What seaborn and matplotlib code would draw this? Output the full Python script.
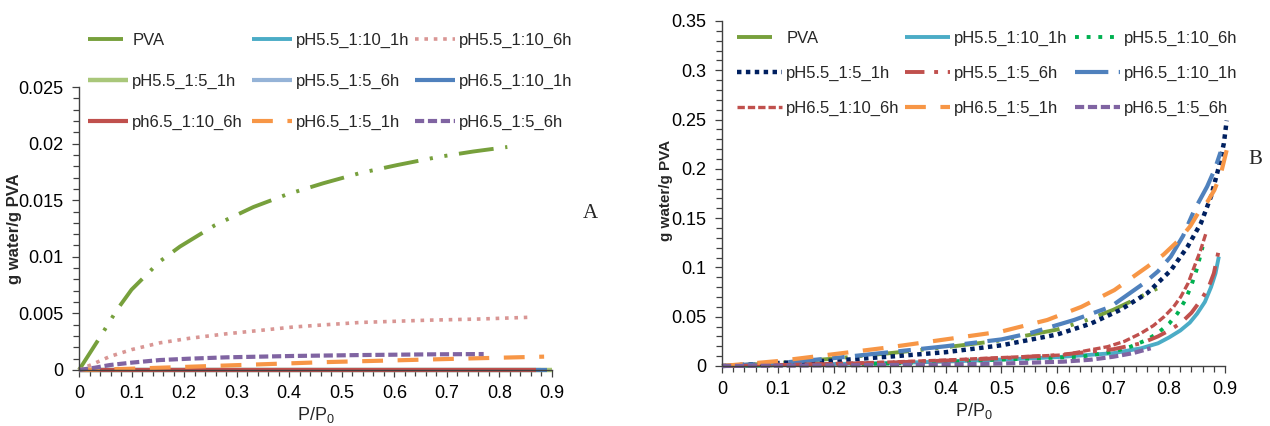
import matplotlib
matplotlib.use("Agg")
import matplotlib.pyplot as plt
import seaborn as sns
from matplotlib.ticker import MultipleLocator, FuncFormatter
from matplotlib.lines import Line2D
from matplotlib.legend import Legend

sns.set_theme(style="white")
plt.rcParams['font.family'] = ['Liberation Sans', 'DejaVu Sans']

# ---------------- data: panel A ----------------
labels_A = ["PVA", "pH5.5_1:10_1h", "pH5.5_1:10_6h",
            "pH5.5_1:5_1h", "pH5.5_1:5_6h", "pH6.5_1:10_1h",
            "ph6.5_1:10_6h", "pH6.5_1:5_1h", "pH6.5_1:5_6h"]

A_pva_x = [0, 0.04, 0.072, 0.10, 0.154, 0.192, 0.259, 0.332, 0.395, 0.465, 0.535, 0.605, 0.681, 0.75, 0.815]
A_pva_y = [0, 0.0029, 0.0053, 0.0071, 0.0096, 0.0109, 0.0128, 0.0144, 0.0155, 0.0165, 0.0174, 0.0181, 0.0188, 0.0193, 0.0197]
A_55_10_1_x = [0, 0.2, 0.4, 0.6, 0.86]
A_55_10_1_y = [0, 0, 0, 0, 0]
A_55_10_6_x = [0, 0.03, 0.059, 0.1, 0.154, 0.21, 0.281, 0.345, 0.408, 0.47, 0.535, 0.6, 0.662, 0.76, 0.853]
A_55_10_6_y = [0, 0.0006, 0.0012, 0.0018, 0.0024, 0.0028, 0.0032, 0.0035, 0.0038, 0.004, 0.0042, 0.0043, 0.0044, 0.0045, 0.00465]
A_55_5_1_x = [0, 0.3, 0.6, 0.9]
A_55_5_1_y = [0, 0, 0, 0]
A_55_5_6_x = [0, 0.3, 0.6, 0.88]
A_55_5_6_y = [0, 0, 0, 0]
A_65_10_1_x = [0, 0.3, 0.6, 0.89]
A_65_10_1_y = [0, 0, 0, 0]
A_65_10_6_x = [0, 0.3, 0.6, 0.87]
A_65_10_6_y = [0, 0, 0, 0]
A_65_5_1_x = [0, 0.09, 0.218, 0.345, 0.472, 0.6, 0.725, 0.885]
A_65_5_1_y = [0, 0.0001, 0.0003, 0.0005, 0.0007, 0.00085, 0.001, 0.00118]
A_65_5_6_x = [0, 0.03, 0.059, 0.1, 0.154, 0.21, 0.281, 0.408, 0.535, 0.662, 0.77]
A_65_5_6_y = [0, 0.0002, 0.00044, 0.00065, 0.00088, 0.001, 0.00112, 0.00124, 0.00132, 0.00138, 0.00141]

# ---------------- data: panel B ----------------
labels_B = ["PVA", "pH5.5_1:10_1h", "pH5.5_1:10_6h",
            "pH5.5_1:5_1h", "pH5.5_1:5_6h", "pH6.5_1:10_1h",
            "pH6.5_1:10_6h", "pH6.5_1:5_1h", "pH6.5_1:5_6h"]

B_pva_x = [0, 0.1, 0.2, 0.3, 0.4, 0.5, 0.6, 0.65, 0.7, 0.737, 0.78]
B_pva_y = [0, 0.003, 0.0075, 0.013, 0.019, 0.026, 0.037, 0.046, 0.057, 0.067, 0.079]
B_55_10_1_x = [0, 0.1, 0.2, 0.3, 0.4, 0.5, 0.6, 0.7, 0.75, 0.78, 0.8, 0.82, 0.837, 0.85, 0.864, 0.875, 0.883, 0.889]
B_55_10_1_y = [0, 0.001, 0.002, 0.003, 0.0045, 0.0065, 0.009, 0.013, 0.018, 0.023, 0.029, 0.036, 0.044, 0.053, 0.065, 0.08, 0.094, 0.111]
B_55_10_6_x = [0, 0.1, 0.2, 0.3, 0.4, 0.47, 0.55, 0.642, 0.7, 0.731, 0.758, 0.779, 0.8, 0.815, 0.828, 0.839, 0.85, 0.86]
B_55_10_6_y = [0, 0.0008, 0.0015, 0.0025, 0.004, 0.006, 0.0075, 0.0094, 0.0145, 0.0196, 0.026, 0.033, 0.043, 0.0534, 0.066, 0.0804, 0.099, 0.121]
B_55_5_1_x = [0, 0.1, 0.2, 0.3, 0.4, 0.5, 0.6, 0.66, 0.713, 0.761, 0.803, 0.833, 0.857, 0.875, 0.889, 0.898, 0.903]
B_55_5_1_y = [0, 0.003, 0.0055, 0.0095, 0.014, 0.021, 0.032, 0.043, 0.057, 0.074, 0.097, 0.121, 0.145, 0.172, 0.202, 0.226, 0.249]
B_55_5_6_x = [0, 0.1, 0.2, 0.3, 0.4, 0.5, 0.6, 0.7, 0.75, 0.78, 0.8, 0.821, 0.84, 0.857, 0.87, 0.88, 0.889]
B_55_5_6_y = [0, 0.001, 0.002, 0.0035, 0.0055, 0.008, 0.011, 0.017, 0.023, 0.03, 0.036, 0.0436, 0.054, 0.067, 0.079, 0.094, 0.118]
B_65_10_1_x = [0, 0.1, 0.2, 0.3, 0.4, 0.5, 0.552, 0.63, 0.695, 0.755, 0.78, 0.803, 0.825, 0.845, 0.868, 0.882, 0.895]
B_65_10_1_y = [0, 0.003, 0.008, 0.014, 0.02, 0.027, 0.0335, 0.0467, 0.06, 0.084, 0.096, 0.111, 0.132, 0.158, 0.182, 0.2, 0.222]
B_65_10_6_x = [0, 0.1, 0.2, 0.3, 0.4, 0.47, 0.61, 0.69, 0.72, 0.749, 0.772, 0.791, 0.808, 0.821, 0.834, 0.845, 0.856, 0.866]
B_65_10_6_y = [0, 0.0012, 0.0025, 0.004, 0.006, 0.0078, 0.0112, 0.0196, 0.025, 0.033, 0.041, 0.05, 0.06, 0.0703, 0.084, 0.1007, 0.117, 0.1348]
B_65_5_1_x = [0, 0.1, 0.2, 0.3, 0.4, 0.5, 0.582, 0.643, 0.702, 0.761, 0.79, 0.818, 0.838, 0.855, 0.869, 0.881, 0.893, 0.903]
B_65_5_1_y = [0, 0.005, 0.012, 0.019, 0.027, 0.035, 0.0467, 0.06, 0.077, 0.1007, 0.113, 0.128, 0.142, 0.158, 0.167, 0.1785, 0.196, 0.219]
B_65_5_6_x = [0, 0.1, 0.2, 0.3, 0.4, 0.5, 0.61, 0.66, 0.7, 0.735, 0.767]
B_65_5_6_y = [0, 0.0003, 0.0006, 0.001, 0.0015, 0.0025, 0.0044, 0.0064, 0.0094, 0.013, 0.018]

# ---------------- styles ----------------
GREEN = "#77A03C"
TEAL = "#4BACC6"
PINK = "#D99694"
LGREEN = "#A9C77A"
LBLUE = "#95B3D7"
BLUE = "#4F81BD"
RED = "#C0504D"
ORANGE = "#F79646"
PURPLE = "#8064A2"
NAVY = "#002060"
GREEN2 = "#00B050"

DASHDOTDOT = (0, (9, 3, 0.8, 3, 0.8, 3))
styles_A = [
    (GREEN, DASHDOTDOT, 2.8),
    (TEAL, "-", 2.8),
    (PINK, (0, (1, 1.6)), 2.6),
    (LGREEN, "-", 3.2),
    (LBLUE, "-", 3.0),
    (BLUE, "-", 3.0),
    (RED, "-", 3.0),
    (ORANGE, (0, (5, 3.5)), 3.0),
    (PURPLE, (0, (2.2, 0.9)), 3.0),
]
styles_B = [
    (GREEN, DASHDOTDOT, 2.8),
    (TEAL, "-", 2.8),
    (GREEN2, (0, (1, 2)), 2.8),
    (NAVY, (0, (1, 1)), 3.2),
    (RED, (0, (5, 2.5, 1, 2.5)), 2.8),
    (BLUE, (0, (8, 2.5, 3, 2.5)), 3.0),
    (RED, (0, (2.2, 0.9)), 2.4),
    (ORANGE, (0, (5, 3.5)), 3.0),
    (PURPLE, (0, (2.2, 0.9)), 3.0),
]

series_A = [(A_pva_x, A_pva_y), (A_55_10_1_x, A_55_10_1_y), (A_55_10_6_x, A_55_10_6_y),
            (A_55_5_1_x, A_55_5_1_y), (A_55_5_6_x, A_55_5_6_y), (A_65_10_1_x, A_65_10_1_y),
            (A_65_10_6_x, A_65_10_6_y), (A_65_5_1_x, A_65_5_1_y), (A_65_5_6_x, A_65_5_6_y)]
series_B = [(B_pva_x, B_pva_y), (B_55_10_1_x, B_55_10_1_y), (B_55_10_6_x, B_55_10_6_y),
            (B_55_5_1_x, B_55_5_1_y), (B_55_5_6_x, B_55_5_6_y), (B_65_10_1_x, B_65_10_1_y),
            (B_65_10_6_x, B_65_10_6_y), (B_65_5_1_x, B_65_5_1_y), (B_65_5_6_x, B_65_5_6_y)]

fig = plt.figure(figsize=(12.7, 4.26), dpi=100)
axA = fig.add_axes([79 / 1270, 1 - 370 / 426, (552 - 79) / 1270, (370 - 87) / 426])
axB = fig.add_axes([722 / 1270, 1 - 366 / 426, (1225 - 722) / 1270, (366 - 21) / 426])

def draw(ax, series, styles, labels):
    handles = []
    for (xs, ys), (c, ls, lw), lab in zip(series, styles, labels):
        sns.lineplot(x=xs, y=ys, ax=ax, color=c, linestyle=ls, linewidth=lw,
                     sort=False, estimator=None, clip_on=False, solid_capstyle="butt",
                     dash_capstyle="butt", solid_joinstyle="round")
        handles.append(Line2D([0], [0], color=c, linestyle=ls, linewidth=lw,
                              solid_capstyle="butt", dash_capstyle="butt"))
    return handles

hA = draw(axA, series_A, styles_A, labels_A)
hB = draw(axB, series_B, styles_B, labels_B)

fmt = FuncFormatter(lambda v, p: ("%g" % round(v, 4)))
TICKCOL = "#404040"
for ax, ymax, ymaj, ymin in [(axA, 0.025, 0.005, 0.001), (axB, 0.35, 0.05, 0.01)]:
    ax.set_xlim(0, 0.9)
    ax.set_ylim(0, ymax)
    ax.xaxis.set_major_locator(MultipleLocator(0.1))
    ax.xaxis.set_minor_locator(MultipleLocator(0.02))
    ax.yaxis.set_major_locator(MultipleLocator(ymaj))
    ax.yaxis.set_minor_locator(MultipleLocator(ymin))
    ax.xaxis.set_major_formatter(fmt)
    ax.yaxis.set_major_formatter(fmt)
    for s in ["top", "right"]:
        ax.spines[s].set_visible(False)
    for s in ["left", "bottom"]:
        ax.spines[s].set_color(TICKCOL)
        ax.spines[s].set_linewidth(1.0)
    ax.tick_params(which="both", direction="out", color=TICKCOL, width=0.9,
                   bottom=True, left=True, labelsize=13, labelcolor="black")
    ax.tick_params(which="major", length=5, pad=6)
    ax.tick_params(which="minor", length=4)
    ax.set_xlabel(r"$\mathregular{P/P_0}$", fontsize=13, labelpad=2)
    ax.set_ylabel("")
    ax.grid(False)
    ax.set_facecolor("white")

fig.text(15 / 1270, 1 - 229 / 426, "g water/g PVA", rotation=90, ha="center", va="center",
         fontsize=12, fontweight="bold")
fig.text(666 / 1270, 1 - 190 / 426, "g water/g PVA", rotation=90, ha="center", va="center",
         fontsize=11, fontweight="bold")
fig.text(590 / 1270, 1 - 213 / 426, "A", fontsize=15, family="Liberation Serif",
         ha="center", va="center")
fig.text(1255 / 1270, 1 - 160 / 426, "B", fontsize=15, family="Liberation Serif",
         ha="center", va="center")

def col_legends(ax, handles, labels, xs_px, top_px, spacing, hlen):
    for ci in range(3):
        idx = [ci, ci + 3, ci + 6]
        leg = Legend(ax, [handles[i] for i in idx], [labels[i] for i in idx],
                     loc="upper left", bbox_to_anchor=(xs_px[ci] / 1270, 1 - top_px / 426),
                     bbox_transform=fig.transFigure, frameon=False, fontsize=12,
                     handlelength=hlen, handletextpad=0.25, labelspacing=spacing,
                     borderpad=0, borderaxespad=0)
        ax.add_artist(leg)

col_legends(axA, hA, labels_A, [88, 252, 415], 33, 1.55, 2.4)
col_legends(axB, hB, labels_B, [737, 905, 1075], 31, 1.2, 2.7)

fig.savefig("out.png", dpi=100, facecolor="white")
